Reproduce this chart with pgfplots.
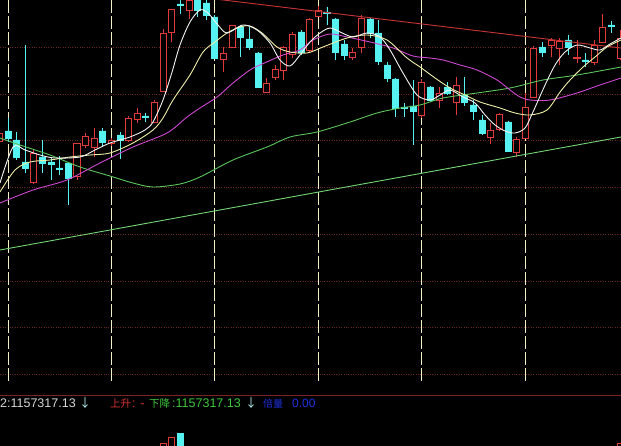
\documentclass[border=0pt]{standalone}
\usepackage{pgfplots}
\pgfplotsset{compat=1.18}
\usepgfplotslibrary{statistics}
\usepackage{fontspec}
\setmainfont{Liberation Sans}
\newfontfamily\cjk{Noto Sans CJK SC}

\definecolor{kup}{HTML}{E03A3A}
\definecolor{kdn}{HTML}{56F2F2}
\definecolor{ma5}{HTML}{F4F4F4}
\definecolor{ma10}{HTML}{EEEEA8}
\definecolor{ma20}{HTML}{D048D0}
\definecolor{ma60}{HTML}{5CC45C}
\definecolor{trendg}{HTML}{74D474}
\definecolor{trendr}{HTML}{C83434}
\definecolor{gridv}{HTML}{F2F0C4}
\definecolor{gridh}{HTML}{6A2424}
\definecolor{sep}{HTML}{7C2424}
\definecolor{txtg}{HTML}{D4D4D4}
\definecolor{txtr}{HTML}{D83232}
\definecolor{txtgr}{HTML}{3CC83C}
\definecolor{txtb}{HTML}{2030E0}
\definecolor{arrowc}{HTML}{B4ECF4}

\pgfplotsset{
  up/.style={draw=kup, fill=black, line width=0.9pt},
  dn/.style={draw=kdn, fill=kdn, line width=0.9pt},
  % candle: index, wick top, body top, body bottom, wick bottom
  kbar/.style n args={5}{boxplot prepared={draw position=#1,
      lower whisker=#2, lower quartile=#3, median=#3,
      upper quartile=#4, upper whisker=#5}},
}

\begin{document}
\begin{tikzpicture}
\begin{axis}[
  name=main,
  scale only axis, width=621pt, height=446pt,
  xmin=-0.928, xmax=71.11, ymin=0, ymax=446, y dir=reverse,
  axis lines=none, xtick=\empty, ytick=\empty,
  axis background/.style={fill=black},
  boxplot/draw direction=y,
  boxplot/box extend=0.7, boxplot/whisker extend=0,
]
% grid
\pgfplotsinvokeforeach{47,94,140,187,234,281,327,374}{
  \draw[gridh, line width=0.8pt, dash pattern=on 0.8pt off 1.6pt] (axis cs:-2,#1) -- (axis cs:73,#1);
}
\pgfplotsinvokeforeach{0,12,24,36,48,60}{
  \draw[gridv, line width=0.9pt, dash pattern=on 13pt off 3pt] (axis cs:#1,0) -- (axis cs:#1,384);
}
\draw[sep, line width=1pt] (axis cs:-2,395) -- (axis cs:73,395);

% candles
\addplot[up, kbar={-1}{130}{133}{141}{146}] coordinates {};
\addplot[dn, kbar={0}{118}{131}{138}{142}] coordinates {};
\addplot[dn, kbar={1}{132}{140}{157}{160}] coordinates {};
\addplot[dn, kbar={2}{45}{162}{168}{173}] coordinates {};
\addplot[up, kbar={3}{150}{153}{182}{184}] coordinates {};
\addplot[dn, kbar={4}{140}{157}{163}{173}] coordinates {};
\addplot[dn, kbar={5}{157}{162}{164}{180}] coordinates {};
\addplot[dn, kbar={6}{156}{168}{169}{175}] coordinates {};
\addplot[dn, kbar={7}{163}{163}{178}{205}] coordinates {};
\addplot[up, kbar={8}{143}{143}{176}{180}] coordinates {};
\addplot[up, kbar={9}{133}{136}{145}{148}] coordinates {};
\addplot[up, kbar={10}{128}{138}{147}{157}] coordinates {};
\addplot[dn, kbar={11}{128}{131}{142}{147}] coordinates {};
\addplot[up, kbar={12}{138}{140}{143}{146}] coordinates {};
\addplot[dn, kbar={13}{132}{135}{140}{159}] coordinates {};
\addplot[up, kbar={14}{116}{118}{140}{142}] coordinates {};
\addplot[up, kbar={15}{108}{113}{119}{123}] coordinates {};
\addplot[dn, kbar={16}{113}{116}{117}{122}] coordinates {};
\addplot[up, kbar={17}{100}{102}{122}{123}] coordinates {};
\addplot[up, kbar={18}{29}{33}{91}{92}] coordinates {};
\addplot[up, kbar={19}{9}{9}{32}{42}] coordinates {};
\addplot[dn, kbar={20}{-2}{4}{5}{14}] coordinates {};
\addplot[up, kbar={21}{-2}{0}{10}{19}] coordinates {};
\addplot[dn, kbar={22}{-2}{0}{10}{17}] coordinates {};
\addplot[dn, kbar={23}{-2}{3}{15}{20}] coordinates {};
\addplot[dn, kbar={24}{15}{17}{58}{59}] coordinates {};
\addplot[up, kbar={25}{47}{53}{59}{72}] coordinates {};
\addplot[up, kbar={26}{25}{25}{47}{48}] coordinates {};
\addplot[dn, kbar={27}{25}{27}{37}{57}] coordinates {};
\addplot[dn, kbar={28}{27}{39}{47}{50}] coordinates {};
\addplot[dn, kbar={29}{52}{53}{87}{88}] coordinates {};
\addplot[up, kbar={30}{78}{83}{92}{93}] coordinates {};
\addplot[up, kbar={31}{65}{69}{77}{80}] coordinates {};
\addplot[up, kbar={32}{46}{47}{70}{80}] coordinates {};
\addplot[up, kbar={33}{32}{34}{54}{58}] coordinates {};
\addplot[dn, kbar={34}{30}{32}{52}{55}] coordinates {};
\addplot[up, kbar={35}{18}{19}{50}{52}] coordinates {};
\addplot[up, kbar={36}{6}{10}{16}{17}] coordinates {};
\addplot[dn, kbar={37}{7}{12}{13}{25}] coordinates {};
\addplot[dn, kbar={38}{18}{19}{52}{60}] coordinates {};
\addplot[dn, kbar={39}{40}{44}{55}{60}] coordinates {};
\addplot[up, kbar={40}{48}{52}{57}{60}] coordinates {};
\addplot[up, kbar={41}{15}{18}{47}{53}] coordinates {};
\addplot[dn, kbar={42}{18}{19}{33}{38}] coordinates {};
\addplot[dn, kbar={43}{20}{33}{61}{65}] coordinates {};
\addplot[dn, kbar={44}{62}{65}{78}{82}] coordinates {};
\addplot[dn, kbar={45}{78}{79}{108}{117}] coordinates {};
\addplot[dn, kbar={46}{103}{107}{108}{117}] coordinates {};
\addplot[dn, kbar={47}{80}{106}{111}{145}] coordinates {};
\addplot[up, kbar={48}{79}{82}{115}{118}] coordinates {};
\addplot[dn, kbar={49}{86}{87}{100}{102}] coordinates {};
\addplot[up, kbar={50}{87}{93}{100}{108}] coordinates {};
\addplot[dn, kbar={51}{82}{87}{93}{95}] coordinates {};
\addplot[up, kbar={52}{77}{85}{102}{115}] coordinates {};
\addplot[dn, kbar={53}{77}{95}{102}{106}] coordinates {};
\addplot[dn, kbar={54}{100}{105}{111}{120}] coordinates {};
\addplot[dn, kbar={55}{115}{120}{133}{135}] coordinates {};
\addplot[up, kbar={56}{123}{130}{137}{144}] coordinates {};
\addplot[up, kbar={57}{113}{114}{129}{131}] coordinates {};
\addplot[dn, kbar={58}{121}{122}{151}{152}] coordinates {};
\addplot[up, kbar={59}{137}{139}{152}{157}] coordinates {};
\addplot[up, kbar={60}{93}{107}{138}{139}] coordinates {};
\addplot[up, kbar={61}{46}{48}{97}{98}] coordinates {};
\addplot[dn, kbar={62}{42}{47}{52}{57}] coordinates {};
\addplot[up, kbar={63}{38}{40}{45}{57}] coordinates {};
\addplot[up, kbar={64}{38}{41}{48}{65}] coordinates {};
\addplot[dn, kbar={65}{35}{40}{47}{55}] coordinates {};
\addplot[up, kbar={66}{40}{57}{58}{63}] coordinates {};
\addplot[dn, kbar={67}{53}{60}{61}{67}] coordinates {};
\addplot[up, kbar={68}{40}{45}{62}{65}] coordinates {};
\addplot[up, kbar={69}{14}{27}{42}{43}] coordinates {};
\addplot[dn, kbar={70}{21}{25}{26}{33}] coordinates {};
\addplot[up, kbar={71}{30}{38}{58}{60}] coordinates {};

% volume bars (tops only visible)
\addplot[up, kbar={18}{443}{443}{452}{452}] coordinates {};
\addplot[up, kbar={19}{437}{437}{452}{452}] coordinates {};
\addplot[dn, kbar={20}{433}{433}{452}{452}] coordinates {};
\addplot[up, kbar={71}{443}{443}{452}{452}] coordinates {};

% trend lines
\addplot[trendg, line width=0.9pt] coordinates {(-0.93,250) (71.11,137)};
\addplot[trendr, line width=0.9pt] coordinates {(24,-1) (71.11,48)};

% moving averages
\addplot[ma60, line width=0.9pt, smooth] coordinates {
(-0.93,138) (1.39,145) (4.87,155) (8.35,167) (11.83,176) (14.50,183) (16.82,187)
(19.95,184) (22.27,177) (26.10,160) (30.05,147) (32.71,137) (35.85,132) (39.68,122)
(42.81,113) (45.48,108) (47.80,105) (50.46,98) (54.41,93) (58.24,88) (62.06,80)
(66.01,75) (71.11,67)};
\addplot[ma20, line width=0.9pt, smooth] coordinates {
(-0.93,203) (2.90,190) (6.84,180) (10.67,163) (14.50,147) (18.45,133) (20.77,117)
(22.27,108) (24.25,97) (26.10,83) (28.07,70) (29.23,65) (31.90,55) (33.87,50)
(35.38,40) (37.35,34) (39.33,37) (42.00,42) (44.66,48) (46.98,56) (48.96,58)
(50.46,60) (52.44,65) (54.41,70) (56.73,80) (58.24,90) (59.40,97) (60.56,100)
(62.88,100) (66.01,93) (68.33,86) (71.11,78)};
\addplot[ma10, line width=0.9pt, smooth] coordinates {
(-0.93,192) (0.81,170) (2.55,162) (4.87,160) (7.19,157) (9.51,155) (11.83,153)
(14.50,143) (16.82,130) (17.98,118) (19.14,100) (21.11,75) (22.62,52) (24.01,42)
(25.41,33) (26.91,27) (28.07,26) (29.47,33) (31.21,47) (32.71,52) (34.69,53)
(36.54,47) (39.33,38) (41.65,35) (43.97,40) (46.29,58) (47.80,67) (49.54,78)
(51.28,88) (53.02,95) (54.76,102) (57.08,108) (58.82,113) (60.56,115) (62.53,110)
(64.04,92) (65.20,80) (66.71,67) (68.10,57) (69.49,47) (71.11,40)};
\addplot[ma5, line width=0.9pt, smooth] coordinates {
(-0.93,183) (0.58,147) (1.97,150) (3.71,155) (5.45,158) (8.35,157) (10.09,150)
(11.83,143) (14.15,137) (15.89,130) (16.82,122) (17.98,100) (19.03,72) (19.95,45)
(21.11,22) (22.27,10) (23.20,13) (24.36,25) (25.41,33) (27.26,25) (28.89,30)
(30.39,43) (31.55,60) (32.71,66) (33.87,55) (35.03,42) (36.19,33) (37.35,28)
(38.52,32) (40.02,37) (41.65,33) (43.16,37) (44.32,50) (45.82,73) (47.45,95)
(48.96,100) (50.12,95) (51.28,90) (52.78,97) (54.18,103) (55.34,115) (56.50,125)
(57.66,131) (58.82,133) (59.98,128) (60.90,112) (62.30,85) (63.46,65) (64.62,52)
(66.01,45) (67.52,48) (68.68,50) (69.84,44) (71.11,38)};
\end{axis}

% indicator line under the price panel
\begin{scope}[every node/.style={anchor=base west, inner sep=0pt}]
\node[text=txtg] at ([yshift=-408pt]main.north west) {\fontsize{12.5}{14}\selectfont 2:1157317.13};
\node[text=arrowc] at ([xshift=79pt,yshift=-408pt]main.north west) {\cjk\fontsize{12}{14}\selectfont ↓};
\node[text=txtr] at ([xshift=110pt,yshift=-408pt]main.north west) {\cjk\fontsize{10.5}{14}\selectfont 上升};
\node[text=txtr] at ([xshift=132pt,yshift=-408pt]main.north west) {\fontsize{12.5}{14}\selectfont : -};
\node[text=txtgr] at ([xshift=149pt,yshift=-408pt]main.north west) {\cjk\fontsize{10.5}{14}\selectfont 下降};
\node[text=txtgr] at ([xshift=172pt,yshift=-408pt]main.north west) {\fontsize{12.5}{14}\selectfont :1157317.13};
\node[text=arrowc] at ([xshift=245pt,yshift=-408pt]main.north west) {\cjk\fontsize{12}{14}\selectfont ↓};
\node[text=txtb] at ([xshift=263pt,yshift=-408pt]main.north west) {\cjk\fontsize{10}{14}\selectfont 倍量};
\node[text=txtb] at ([xshift=292pt,yshift=-408pt]main.north west) {\fontsize{12}{14}\selectfont 0.00};
\end{scope}
\end{tikzpicture}
\end{document}
